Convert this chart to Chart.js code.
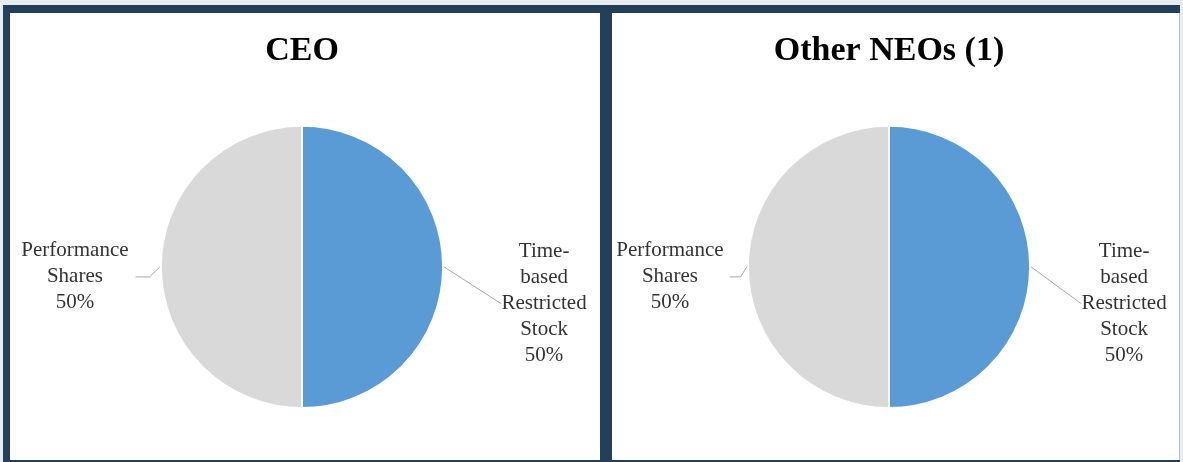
<!DOCTYPE html>
<html>
<head>
<meta charset="utf-8">
<script src="https://cdn.jsdelivr.net/npm/chart.js@4.4.1/dist/chart.umd.min.js"></script>
<style>
  html, body { margin: 0; padding: 0; }
  body { width: 1183px; height: 462px; background: #e6ecf0; position: relative; overflow: hidden; }
  #frame { position: absolute; left: 3px; top: 5px; width: 1177px; height: 457px; background: #243f5a; }
  .panel { position: absolute; background: #ffffff; }
  #p1 { left: 10px; top: 13px; width: 590px; height: 447px; }
  #p2 { left: 612px; top: 13px; width: 567px; height: 447px; border-right: 1px solid #b8c6d2; }
  canvas { display: block; }
</style>
</head>
<body>
<div id="frame"></div>
<div class="panel" id="p1"><canvas id="c1" width="590" height="447"></canvas></div>
<div class="panel" id="p2"><canvas id="c2" width="567" height="447"></canvas></div>
<script>
// ---- data ----
const categories = [["Time-", "based", "Restricted", "Stock"], ["Performance", "Shares"]];
const ceoValues = [50, 50];
const otherNeoValues = [50, 50];
const chartTitles = ["CEO", "Other NEOs (1)"];
const sliceColors = ["#5b9bd5", "#d9d9d9"];

const SERIF = "'Liberation Serif', 'Times New Roman', serif";

// label plugin: draws category + percent outside each slice with a leader line
const outsideLabels = {
  id: 'outsideLabels',
  afterDraw(chart, args, opts) {
    const ctx = chart.ctx;
    const meta = chart.getDatasetMeta(0);
    const values = chart.data.datasets[0].data;
    const total = values.reduce((a, b) => a + b, 0);
    ctx.save();
    ctx.font = opts.fontSize + 'px ' + SERIF;
    ctx.fillStyle = '#333333';
    ctx.textAlign = 'center';
    ctx.textBaseline = 'middle';
    meta.data.forEach((arc, i) => {
      const p = arc.getProps(['x', 'y', 'startAngle', 'endAngle', 'outerRadius'], true);
      const mid = (p.startAngle + p.endAngle) / 2;
      const ex = p.x + Math.cos(mid) * (p.outerRadius + 1);
      const ey = p.y + Math.sin(mid) * (p.outerRadius + 1);
      const off = opts.offsets[i];
      const cx = ex + off.dx;
      const cy = ey + off.dy;
      const lab = chart.data.labels[i];
      const lines = (Array.isArray(lab) ? lab.slice() : [lab]);
      lines.push(Math.round(values[i] / total * 100) + '%');
      const lh = opts.lineHeight;
      const maxW = Math.max(...lines.map(l => ctx.measureText(l).width));
      // leader line
      const side = Math.cos(mid) >= 0 ? -1 : 1; // label side facing pie
      const endX = cx + side * (maxW / 2 + off.gap);
      const endY = cy + off.lineDy;
      ctx.strokeStyle = '#a6a6a6';
      ctx.lineWidth = 1;
      ctx.beginPath();
      ctx.moveTo(ex, ey);
      ctx.lineTo(endX + side * off.elbow, endY);
      ctx.lineTo(endX, endY);
      ctx.stroke();
      // text
      const top = cy - (lines.length - 1) * lh / 2;
      lines.forEach((l, k) => ctx.fillText(l, cx, top + k * lh));
    });
    ctx.restore();
  }
};

function makePie(id, title, values, pad, offsets) {
  return new Chart(document.getElementById(id), {
    type: 'pie',
    data: {
      labels: categories,
      datasets: [{ data: values, backgroundColor: sliceColors, borderColor: '#ffffff', borderWidth: 2 }]
    },
    options: {
      responsive: false,
      animation: false,
      layout: { padding: pad },
      plugins: {
        legend: { display: false },
        tooltip: { enabled: false },
        title: {
          display: true, text: title, color: '#000000',
          font: { family: SERIF, size: 34, weight: 'bold', lineHeight: 1.2 },
          padding: { top: 18, bottom: 53 }
        },
        outsideLabels: { fontSize: 21, lineHeight: 26, offsets: offsets }
      }
    },
    plugins: [outsideLabels]
  });
}

makePie('c1', chartTitles[0], ceoValues,
  { left: 148, right: 154, top: 0, bottom: 51 },
  [ { dx: 100, dy: 37, gap: 0, elbow: 0, lineDy: 0 },
    { dx: -85, dy: 10, gap: 7, elbow: 14, lineDy: 0 } ]);

makePie('c2', chartTitles[1], otherNeoValues,
  { left: 128, right: 141, top: 0, bottom: 51 },
  [ { dx: 93, dy: 37, gap: 0, elbow: 0, lineDy: 0 },
    { dx: -77, dy: 10, gap: 6, elbow: 11, lineDy: 0 } ]);
</script>
</body>
</html>
